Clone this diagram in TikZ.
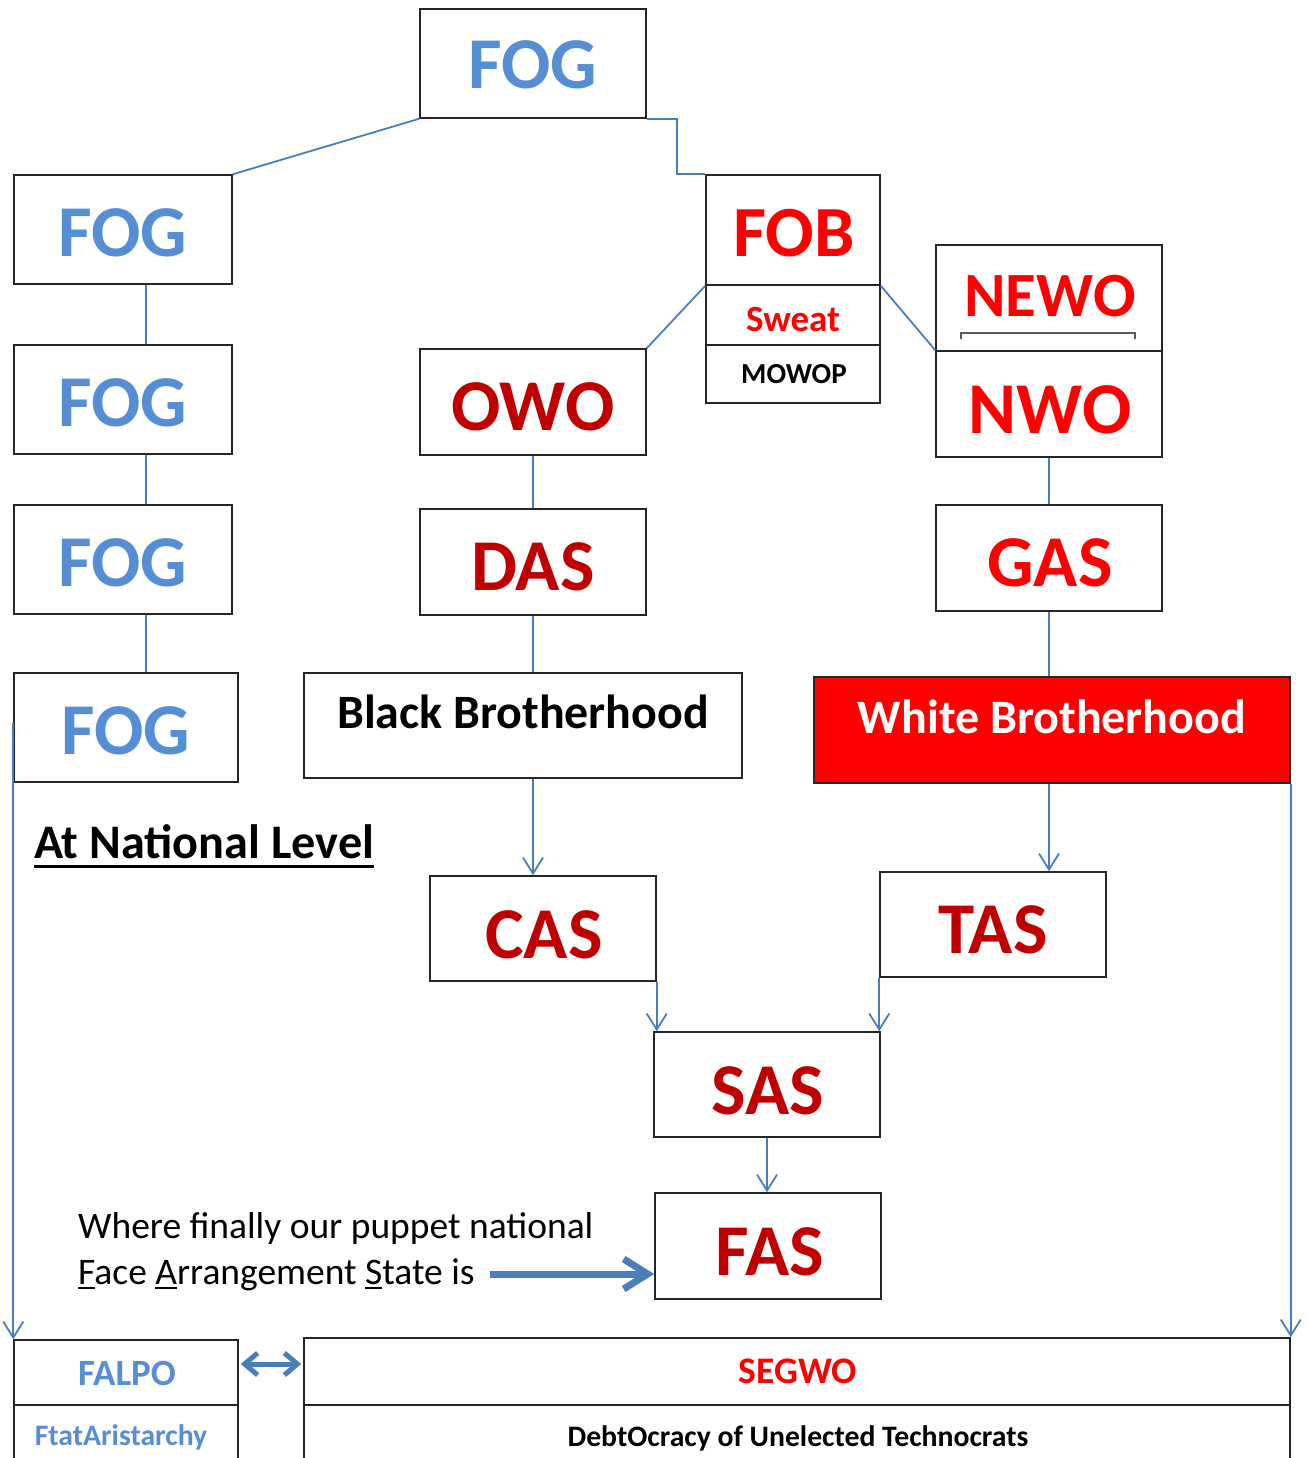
\documentclass[tikz,border=0pt]{standalone}
\usepackage{fontspec}
\setmainfont{Carlito}
\usetikzlibrary{arrows.meta,calc}
\definecolor{lineblue}{RGB}{74,126,187}
\definecolor{txtblue}{RGB}{85,142,213}
\definecolor{darkred}{RGB}{192,0,0}
\definecolor{brightred}{RGB}{255,0,0}
\newcommand\ulchar[1]{\setbox0\hbox{#1}\rlap{\rule[-4.5pt]{\wd0}{1.8pt}}#1}
\begin{document}
\begin{tikzpicture}[x=1pt,y=-1pt,
  box/.style={draw=black!85, line width=1.5pt, inner sep=0pt, rectangle},
  lbl/.style={anchor=base, inner sep=0pt, font=\bfseries\fontsize{#1}{#1}\selectfont},
  conn/.style={draw=lineblue, line width=1.8pt},
  arr/.style={conn, -{Straight Barb[length=16pt,width=20pt]}},
  ]
\useasboundingbox (0,0) rectangle (1307,1458);
\fill[white] (0,0) rectangle (1307,1458);

% ---------- boxes ----------
\node[box, minimum width=226pt, minimum height=109pt] (fog0) at (533,63.5) {};
\node[box, minimum width=218pt, minimum height=109pt] (fog1) at (123,229.5) {};
\node[box, minimum width=218pt, minimum height=109pt] (fog2) at (123,399.5) {};
\node[box, minimum width=218pt, minimum height=109pt] (fog3) at (123,559.5) {};
\node[box, minimum width=224pt, minimum height=109pt] (fog4) at (126,727.5) {};
\node[box, minimum width=174pt, minimum height=110pt] (fob) at (793,230) {};
\node[box, minimum width=174pt, minimum height=60pt] (sweat) at (793,315) {};
\node[box, minimum width=174pt, minimum height=58pt] (mowop) at (793,374) {};
\node[box, minimum width=226pt, minimum height=106pt] (newo) at (1049,298) {};
\node[box, minimum width=226pt, minimum height=106pt] (nwo) at (1049,404) {};
\node[box, minimum width=226pt, minimum height=106pt] (owo) at (533,402) {};
\node[box, minimum width=226pt, minimum height=106pt] (das) at (533,562) {};
\node[box, minimum width=226pt, minimum height=106pt] (gas) at (1049,558) {};
\node[box, minimum width=438pt, minimum height=105pt] (black) at (523,725.5) {};
\node[box, fill=brightred, minimum width=476pt, minimum height=106pt] (white) at (1052,730) {};
\node[box, minimum width=226pt, minimum height=105pt] (cas) at (543,928.5) {};
\node[box, minimum width=226pt, minimum height=105pt] (tas) at (993,924.5) {};
\node[box, minimum width=226pt, minimum height=105pt] (sas) at (767,1084.5) {};
\node[box, minimum width=226pt, minimum height=106pt] (fas) at (768,1246) {};
\node[box, minimum width=224pt, minimum height=65pt] (falpo) at (126,1372.5) {};
\node[box, minimum width=224pt, minimum height=65pt] (ftat) at (126,1437.5) {};
\node[box, minimum width=986pt, minimum height=67pt] (segwo) at (797,1371.5) {};
\node[box, minimum width=986pt, minimum height=65pt] (debt) at (797,1437.5) {};

% ---------- labels ----------
\node[lbl=73, text=txtblue] (tfog0) at (533,89) {FOG};
\node[lbl=73, text=txtblue] (tfog1) at (123,256) {FOG};
\node[lbl=73, text=txtblue] (tfog2) at (123,426) {FOG};
\node[lbl=73, text=txtblue] (tfog3) at (123,586) {FOG};
\node[lbl=73, text=txtblue] (tfog4) at (126,754) {FOG};
\node[lbl=72, text=brightred] (tfob) at (794,256) {FOB};
\node[lbl=37, text=brightred] (tsweat) at (793,331) {Sweat};
\node[lbl=29, text=black] (tmowop) at (794,383) {MOWOP};
\node[lbl=63, text=brightred] (tnewo) at (1050,316) {NEWO};
\node[lbl=73, text=brightred] (tnwo) at (1050,433) {NWO};
\node[lbl=73, text=darkred] (towo) at (533,430) {OWO};
\node[lbl=73, text=darkred] (tdas) at (533,590) {DAS};
\node[lbl=73, text=brightred] (tgas) at (1050,586) {GAS};
\node[lbl=47.9, text=black] (tblack) at (523,728) {Black Brotherhood};
\node[lbl=48, text=white] (twhite) at (1052,733) {White Brotherhood};
\node[lbl=73, text=darkred] (tcas) at (544,958) {CAS};
\node[lbl=73, text=darkred] (ttas) at (993,953) {TAS};
\node[lbl=73, text=darkred] (tsas) at (768,1114) {SAS};
\node[lbl=73, text=darkred] (tfas) at (770,1275) {FAS};
\node[lbl=37, text=txtblue] (tfalpo) at (127,1385) {FALPO};
\node[lbl=29.7, text=txtblue] (tftat) at (121,1445) {FtatAristarchy};
\node[lbl=37.5, text=brightred] (tsegwo) at (798,1383) {SEGWO};
\node[lbl=29.7, text=black] (tdebt) at (798,1446) {DebtOcracy of Unelected Technocrats};
\node[lbl=48.2, text=black, anchor=base west] (tnat) at (34,858) {At National Level};
\draw[line width=3pt] ($(tnat.base west)+(0,8)$) -- ($(tnat.base east)+(0,8)$);
\node[anchor=base west, inner sep=0pt, font=\fontsize{37.5}{37.5}\selectfont] (twhere1) at (78,1238) {Where finally our puppet national};
\node[anchor=base west, inner sep=0pt, font=\fontsize{37.5}{37.5}\selectfont] (twhere2) at (78,1284) {\ulchar{F}ace \ulchar{A}rrangement \ulchar{S}tate is};

% NEWO bracket
\draw[black!65, line width=1.5pt] (961,339) -- (961,333) -- (1135,333) -- (1135,339);

% ---------- connectors ----------
\coordinate (lx) at (146,0);
\draw[conn] (fog0.south west) -- (fog1.north east);
\draw[conn] (fog0.south east) -- ++(30,0) |- (fob.north west);
\draw[conn] (fob.south west) -- (owo.north east);
\draw[conn] (fob.south east) -- (nwo.north west);
\draw[conn] (fog1.south -| lx) -- (fog2.north -| lx);
\draw[conn] (fog2.south -| lx) -- (fog3.north -| lx);
\draw[conn] (fog3.south -| lx) -- (fog4.north -| lx);
\draw[conn] (owo.south) -- (das.north);
\draw[conn] (das.south) -- (black.north -| das.south);
\draw[conn] (nwo.south) -- (gas.north);
\draw[conn] (gas.south) -- (white.north -| gas.south);
\draw[arr] (black.south -| das.south) -- (cas.north -| das.south);
\draw[arr] (white.south -| gas.south) -- (tas.north -| gas.south);
\draw[arr] (cas.south east) -- (cas.south east |- sas.north);
\draw[arr] (tas.south west) -- (tas.south west |- sas.north);
\draw[arr] (sas.south) -- (sas.south |- fas.north);
\draw[arr] ($(fog4.west)+(0,-5)$) -- (fog4.west |- falpo.north);
\draw[arr] (white.south east) -- (white.south east |- segwo.north);

\coordinate (farr) at (490,1274);
\draw[draw=lineblue, line width=7pt, -{Straight Barb[length=24pt,width=30pt]}] (farr) -- (farr -| fas.west);
\coordinate (darr) at (238,1364);
\draw[draw=lineblue, line width=5pt, {Straight Barb[length=13pt,width=22pt]}-{Straight Barb[length=13pt,width=22pt]}] ($(falpo.east |- darr)+(2,0)$) -- ($(segwo.west |- darr)+(-2,0)$);
\end{tikzpicture}
\end{document}
